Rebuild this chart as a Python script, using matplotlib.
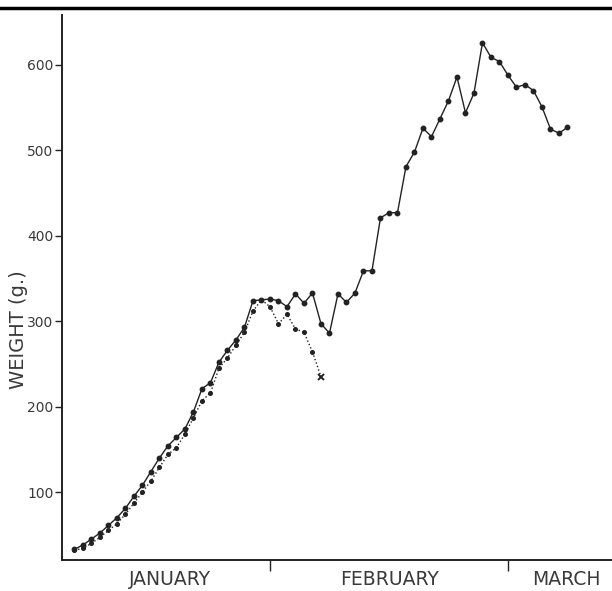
import matplotlib
matplotlib.use("Agg")
import matplotlib.pyplot as plt
from matplotlib.lines import Line2D

# gun numarasi (1 Ocak = 0), 31 = 1 Subat, 59 = 1 Mart
gun_a = list(range(8, 67))
agirlik_a = [33, 38, 45, 52, 61, 70, 81, 95, 108, 124,
             140, 154, 164, 174, 194, 221, 228, 252, 266, 278,
             293, 324, 325, 326, 324, 317, 332, 321, 333, 297,
             286, 332, 322, 333, 359, 359, 421, 427, 427, 481,
             498, 526, 516, 537, 558, 586, 544, 567, 626, 609,
             604, 588, 574, 577, 570, 551, 525, 520, 527]

gun_b = list(range(8, 38))
agirlik_b = [32, 34, 40, 47, 55, 63, 74, 87, 100, 113,
             129, 144, 152, 168, 187, 207, 216, 245, 257, 272,
             287, 312, 325, 317, 297, 308, 291, 287, 264, 235]

ay_sinirlari = [31, 59]
ay_ortalari = [19.2, 45.1, 65.9]
ay_isimleri = ["JANUARY", "FEBRUARY", "MARCH"]
y_tikler = [100, 200, 300, 400, 500, 600]

renk = "#222222"
yazi = "#3a3a3a"

fig = plt.figure(figsize=(6.12, 5.91), dpi=100)
ax = fig.add_axes([62 / 612, 31 / 591, 1 - 62 / 612, 545 / 591])

ax.plot(gun_a, agirlik_a, "-", color=renk, lw=1.0, marker="o", ms=3.2,
        mfc=renk, mec=renk)
ax.plot(gun_b[:-1], agirlik_b[:-1], ":", color=renk, lw=1.0, marker="o",
        ms=2.6, mfc=renk, mec=renk)
ax.plot(gun_b[-2:], agirlik_b[-2:], ":", color=renk, lw=1.0)
ax.plot(gun_b[-1], agirlik_b[-1], "x", color=renk, ms=5, mew=1.4)

ax.set_xlim(6.53, 71.24)
ax.set_ylim(20.4, 658.5)

for s in ["top", "right"]:
    ax.spines[s].set_visible(False)
for s in ["left", "bottom"]:
    ax.spines[s].set_color(renk)
    ax.spines[s].set_linewidth(1.4)

ax.set_yticks(y_tikler)
ax.set_yticklabels([str(t) for t in y_tikler], fontsize=10, color=yazi)
ax.tick_params(axis="y", direction="out", length=5, width=1.0, color=renk, pad=1)

ax.set_xticks(ay_sinirlari)
ax.set_xticklabels([])
ax.set_xticks(ay_ortalari, minor=True)
ax.set_xticklabels(ay_isimleri, minor=True, fontsize=13.5, color=yazi)
ax.tick_params(axis="x", which="major", direction="out", length=8, width=1.0, color=renk)
ax.tick_params(axis="x", which="minor", length=0, pad=7)

ax.set_ylabel("WEIGHT (g.)", fontsize=14, color=yazi)
ax.yaxis.set_label_coords(-0.062, 0.4225)

# ustteki kalin cizgi
fig.add_artist(Line2D([0, 1], [1 - 8 / 591, 1 - 8 / 591], transform=fig.transFigure,
                      color="black", lw=2.5))

fig.savefig("out.png", dpi=100, facecolor="white")
